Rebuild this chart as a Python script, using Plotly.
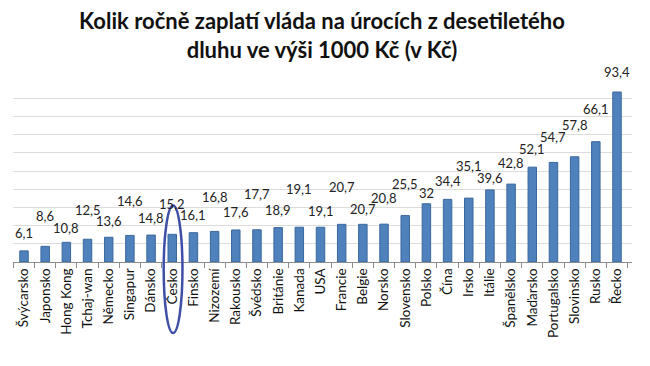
import plotly.graph_objects as go

countries = ["Švýcarsko", "Japonsko", "Hong Kong", "Tchaj-wan", "Německo", "Singapur", "Dánsko",
             "Česko", "Finsko", "Nizozemí", "Rakousko", "Švédsko", "Británie", "Kanada", "USA",
             "Francie", "Belgie", "Norsko", "Slovensko", "Polsko", "Čína", "Irsko", "Itálie",
             "Španělsko", "Maďarsko", "Portugalsko", "Slovinsko", "Rusko", "Řecko"]
values = [6.1, 8.6, 10.8, 12.5, 13.6, 14.6, 14.8, 15.2, 16.1, 16.8, 17.6, 17.7, 18.9, 19.1, 19.1,
          20.7, 20.7, 20.8, 25.5, 32, 34.4, 35.1, 39.6, 42.8, 52.1, 54.7, 57.8, 66.1, 93.4]
# style: pixel lift of each data label above its bar (staggered as in the original)
label_lift = [8, 20, 4, 19, 6, 24, 7, 20, 8, 24, 8, 26, 8, 28, 6, 27, 5, 16, 22, 1, 8, 22, 2, 11,
              8, 15, 22, 23, 10]
highlight = "Česko"

fmt = lambda v: f"{v:g}".replace(".", ",")

fig = go.Figure(go.Bar(
    x=countries, y=values,
    marker=dict(color="#4F81BD", line=dict(color="#3A679C", width=1)),
    width=0.4,
))

for c, v, lift in zip(countries, values, label_lift):
    fig.add_annotation(x=c, y=v, text=fmt(v), showarrow=False, yanchor="bottom",
                       yshift=lift, font=dict(family="Lato", size=13, color="#222222"))

n = len(countries)
i = countries.index(highlight)
fig.add_shape(type="circle", xref="x domain", yref="paper",
              x0=(i + 0.5 - 0.44) / n, x1=(i + 0.5 + 0.44) / n,
              y0=-0.39, y1=0.31,
              line=dict(color="#3F4FA8", width=2.5), layer="above")

fig.update_layout(
    width=642, height=358,
    margin=dict(l=5, r=18, t=72, b=104, autoexpand=False),
    paper_bgcolor="white", plot_bgcolor="white",
    title=dict(text="<b>Kolik ročně zaplatí vláda na úrocích z desetiletého<br>dluhu ve výši 1000 Kč (v Kč)</b>",
               x=0.489, xanchor="center", y=0.94, yanchor="top",
               font=dict(family="Lato", size=22, color="#111111")),
    showlegend=False,
    bargap=0.6,
)
fig.update_xaxes(tickangle=-90, tickfont=dict(family="Lato", size=13.5, color="#111111"),
                 showline=True, linecolor="#8C8C8C", linewidth=1, automargin=False,
                 ticks="outside", tickson="boundaries", ticklen=5, tickcolor="#8C8C8C",
                 showgrid=False)
fig.update_yaxes(range=[0, 100], dtick=10, showgrid=True, gridcolor="#DCDCDC", gridwidth=1,
                 showticklabels=False, zeroline=False, ticks="", automargin=False)

fig.write_html("out.html")
